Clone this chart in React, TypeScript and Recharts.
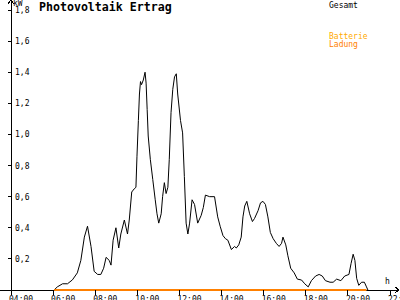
import { Line, LineChart, XAxis, YAxis } from "recharts";

const zeiten = [
	"06:03", "06:12", "06:27", "06:41", "06:55", "07:09", "07:19", "07:29", "07:38", "07:48",
	"07:57", "08:07", "08:16", "08:24", "08:31", "08:40", "08:45", "08:51", "08:59", "09:07",
	"09:13", "09:23", "09:32", "09:37", "09:44", "09:51", "09:56", "09:59", "10:03", "10:06",
	"10:09", "10:12", "10:17", "10:22", "10:25", "10:28", "10:31", "10:37", "10:44", "10:51",
	"10:56", "11:01", "11:08", "11:12", "11:17", "11:22", "11:27", "11:31", "11:36", "11:41",
	"11:46", "11:51", "11:55", "12:03", "12:09", "12:14", "12:19", "12:24", "12:29", "12:36",
	"12:43", "12:52", "13:02", "13:08", "13:14", "13:26", "13:40", "13:49", "13:56", "14:04",
	"14:11", "14:18", "14:28", "14:37", "14:42", "14:49", "14:56", "15:01", "15:06", "15:12",
	"15:20", "15:28", "15:34", "15:44", "15:51", "15:58", "16:05", "16:12", "16:19", "16:27",
	"16:36", "16:44", "16:51", "16:55", "17:03", "17:09", "17:17", "17:27", "17:36", "17:48",
	"17:57", "18:07", "18:16", "18:28", "18:38", "18:47", "18:56", "19:09", "19:18", "19:28",
	"19:40", "19:51", "20:03", "20:09", "20:15", "20:20", "20:25", "20:31", "20:39", "20:47",
	"20:53", "20:57",
];

const gesamtKw = [
	0, 0.02, 0.04, 0.04, 0.065, 0.11, 0.19, 0.34, 0.41, 0.28,
	0.12, 0.1, 0.1, 0.14, 0.21, 0.19, 0.16, 0.32, 0.4, 0.27,
	0.36, 0.45, 0.36, 0.45, 0.63, 0.65, 0.66, 0.86, 1.09, 1.26,
	1.34, 1.32, 1.35, 1.4, 1.33, 1.16, 0.99, 0.84, 0.71, 0.58,
	0.49, 0.43, 0.49, 0.6, 0.69, 0.62, 0.66, 0.84, 1.14, 1.29,
	1.37, 1.39, 1.26, 1.09, 1.01, 0.73, 0.43, 0.36, 0.43, 0.58,
	0.55, 0.43, 0.48, 0.53, 0.61, 0.6, 0.6, 0.47, 0.41, 0.35,
	0.33, 0.32, 0.26, 0.28, 0.27, 0.29, 0.34, 0.47, 0.54, 0.57,
	0.49, 0.44, 0.46, 0.51, 0.56, 0.57, 0.55, 0.47, 0.37, 0.33,
	0.3, 0.28, 0.3, 0.34, 0.29, 0.22, 0.14, 0.11, 0.07, 0.064,
	0.04, 0.02, 0.06, 0.09, 0.1, 0.09, 0.06, 0.05, 0.05, 0.07,
	0.06, 0.09, 0.1, 0.17, 0.23, 0.19, 0.075, 0.03, 0.05, 0.05,
	0.02, 0,
];

const ladungZeiten = ["06:03", "20:53"];
const ladungKw = [0, 0];

const xTicks = [4, 6, 8, 10, 12, 14, 16, 18, 20, 22];
const yTicks = [0.2, 0.4, 0.6, 0.8, 1.0, 1.2, 1.4, 1.6, 1.8];

const mono = "'DejaVu Sans Mono', monospace";

function toHours(s: string) {
	const [h, m] = s.split(":").map(Number);
	return h + m / 60;
}

const gesamtData = zeiten.map((z, i) => ({ t: toHours(z), kw: gesamtKw[i] }));
const ladungData = ladungZeiten.map((z, i) => ({ t: toHours(z), kw: ladungKw[i] }));

function XTick({ x, y, payload }: any) {
	const h = String(payload.value).padStart(2, "0");
	return (
		<g>
			<line x1={x} x2={x} y1={y} y2={y + 5} stroke="#000" shapeRendering="crispEdges" />
			<text x={x - 2} y={y + 12} fontSize={8} fontFamily={mono} fill="#000">
				{payload.value === 22 ? "22:" : `${h}:00`}
			</text>
		</g>
	);
}

function YTick({ x, y, payload }: any) {
	return (
		<g>
			<line x1={x - 3} x2={x + 1} y1={y} y2={y} stroke="#000" shapeRendering="crispEdges" />
			<text x={x + 4} y={y + 3} fontSize={8} fontFamily={mono} fill="#000">
				{payload.value.toFixed(1).replace(".", ",")}
			</text>
		</g>
	);
}

export default function App() {
	return (
		<div style={{ position: "absolute", left: 0, top: 0, width: 400, height: 300, background: "#fff" }}>
			<svg width={400} height={300} style={{ position: "absolute", left: 0, top: 0 }}>
				<g stroke="#000" shapeRendering="crispEdges">
					<line x1={0} x2={399} y1={290} y2={290} />
					<line x1={11} x2={11} y1={0} y2={295} />
					<line x1={11} x2={8} y1={0} y2={4} />
					<line x1={11} x2={14} y1={0} y2={4} />
					<line x1={399} x2={395} y1={290} y2={287} />
					<line x1={399} x2={395} y1={290} y2={293} />
				</g>
				<text x={13} y={6} fontSize={8} fontFamily={mono}>kW</text>
				<text x={385} y={284} fontSize={8} fontFamily={mono}>h</text>
				<text x={39} y={11} fontSize={11.6} fontWeight="bold" fontFamily={mono}>
					Photovoltaik Ertrag
				</text>
				<text x={329} y={8} fontSize={8} fontFamily={mono} fill="#000">Gesamt</text>
				<text x={329} y={39} fontSize={8} fontFamily={mono} fill="#ffaa00">Batterie</text>
				<text x={329} y={47} fontSize={8} fontFamily={mono} fill="#ff8000">Ladung</text>
			</svg>
			<div style={{ position: "absolute", left: 0, top: 0 }}>
				<LineChart width={400} height={300} margin={{ top: 10, right: 10, bottom: 0, left: 11 }}>
					<XAxis
						type="number"
						dataKey="t"
						domain={[4, 22]}
						ticks={xTicks}
						height={10}
						axisLine={false}
						tickLine={false}
						tickSize={0}
						tickMargin={0}
						tick={<XTick />}
						allowDataOverflow
					/>
					<YAxis
						type="number"
						domain={[0, 1.8]}
						ticks={yTicks}
						mirror
						axisLine={false}
						tickLine={false}
						tickSize={0}
						tickMargin={0}
						tick={<YTick />}
					/>
					<Line
						data={gesamtData}
						dataKey="kw"
						type="linear"
						stroke="#000"
						strokeWidth={1}
						dot={false}
						isAnimationActive={false}
					/>
					<Line
						data={ladungData}
						dataKey="kw"
						type="linear"
						stroke="#ff8000"
						strokeWidth={2}
						dot={false}
						isAnimationActive={false}
					/>
				</LineChart>
			</div>
		</div>
	);
}
